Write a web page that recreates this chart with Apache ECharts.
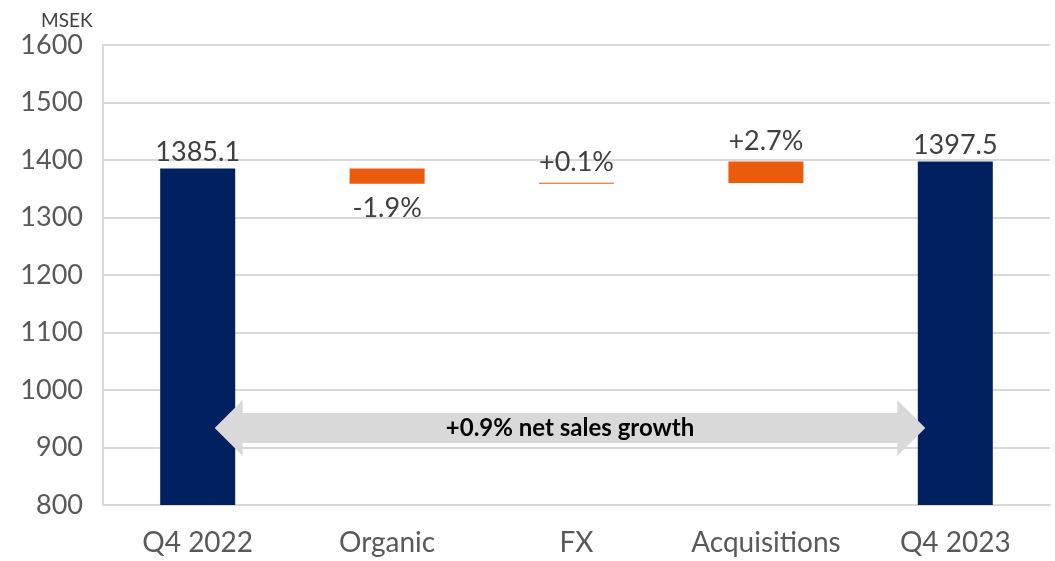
<!DOCTYPE html>
<html>
<head>
<meta charset="utf-8">
<script src="https://cdn.jsdelivr.net/npm/echarts@6/dist/echarts.min.js"></script>
<style>
  html, body { margin: 0; padding: 0; background: #fff; }
  #chart { width: 1055px; height: 561px; }
</style>
</head>
<body>
<div id="chart"></div>
<script>
// waterfall steps, MSEK
var categories = ['Q4 2022', 'Organic', 'FX', 'Acquisitions', 'Q4 2023'];
var startVals = [800, 1385.1, 1358.8, 1360.2, 800];
var endVals = [1385.1, 1358.8, 1360.2, 1397.5, 1397.5];
var isTotal = [true, false, false, false, true];
var valueLabels = ['1385.1', '-1.9%', '+0.1%', '+2.7%', '1397.5'];
var labelBelow = [false, true, false, false, false];

// arrow annotation: from category 0 to 4 at this value
var arrowFrom = 0, arrowTo = 4, arrowLevel = 934;
var arrowText = '+0.9% net sales growth';

var NAVY = '#002060';
var ORANGE = '#EA5B0C';
var FONT = 'Lato, "Liberation Sans", sans-serif';

var baseData = [], stepData = [];
for (var i = 0; i < categories.length; i++) {
  var lo = Math.min(startVals[i], endVals[i]);
  var hi = Math.max(startVals[i], endVals[i]);
  baseData.push(isTotal[i] ? 0 : lo);
  stepData.push({
    value: isTotal[i] ? hi : +(hi - lo).toFixed(1),
    itemStyle: { color: isTotal[i] ? NAVY : ORANGE },
    label: {
      show: true,
      formatter: valueLabels[i],
      position: labelBelow[i] ? 'bottom' : 'top',
      distance: labelBelow[i] ? 11 : (isTotal[i] ? 3 : 7)
    }
  });
}

var myChart = echarts.init(document.getElementById('chart'));

myChart.setOption({
  animation: false,
  title: {
    text: 'MSEK',
    left: 36,
    top: 6,
    textStyle: { fontFamily: FONT, fontSize: 19, fontWeight: 'normal', color: '#404040' }
  },
  grid: { left: 103, right: 5, top: 45, bottom: 56, containLabel: false },
  xAxis: {
    type: 'category',
    data: categories,
    axisTick: { show: false },
    axisLine: { lineStyle: { color: '#d9d9d9', width: 2 } },
    axisLabel: { interval: 0, fontFamily: FONT, fontSize: 28, color: '#595959', margin: 24 }
  },
  yAxis: {
    type: 'value',
    min: 800,
    max: 1600,
    interval: 100,
    axisLine: { show: true, lineStyle: { color: '#d9d9d9', width: 2 } },
    axisTick: { show: false },
    splitLine: { lineStyle: { color: '#d9d9d9', width: 2 } },
    axisLabel: {
      fontFamily: FONT, fontSize: 27, color: '#595959', margin: 20,
      formatter: function (v) { return String(v); }
    }
  },
  series: [
    {
      name: 'base',
      type: 'bar',
      stack: 'w',
      silent: true,
      barWidth: 75,
      itemStyle: { color: 'transparent' },
      data: baseData
    },
    {
      name: 'step',
      type: 'bar',
      stack: 'w',
      barWidth: 75,
      barMinHeight: 1,
      label: { fontFamily: FONT, fontSize: 27, color: '#404040' },
      data: stepData
    },
    {
      name: 'arrow',
      type: 'custom',
      z: 10,
      data: [[arrowFrom, arrowTo, arrowLevel]],
      renderItem: function (params, api) {
        var a = api.coord([api.value(0), api.value(2)]);
        var b = api.coord([api.value(1), api.value(2)]);
        var x0 = a[0] + 17, x1 = b[0] - 30, y = a[1];
        var headLen = 28, headH = 28, shaftH = 15;
        var pts = [
          [x0, y],
          [x0 + headLen, y - headH],
          [x0 + headLen, y - shaftH],
          [x1 - headLen, y - shaftH],
          [x1 - headLen, y - headH],
          [x1, y],
          [x1 - headLen, y + headH],
          [x1 - headLen, y + shaftH],
          [x0 + headLen, y + shaftH],
          [x0 + headLen, y + headH]
        ];
        return {
          type: 'group',
          children: [
            { type: 'polygon', shape: { points: pts }, style: { fill: '#d9d9d9' } },
            {
              type: 'text',
              x: (x0 + x1) / 2,
              y: y,
              style: {
                text: arrowText,
                fontFamily: FONT,
                fontSize: 24,
                fontWeight: 'bold',
                fill: '#000',
                align: 'center',
                verticalAlign: 'middle'
              }
            }
          ]
        };
      }
    }
  ]
});
</script>
</body>
</html>
